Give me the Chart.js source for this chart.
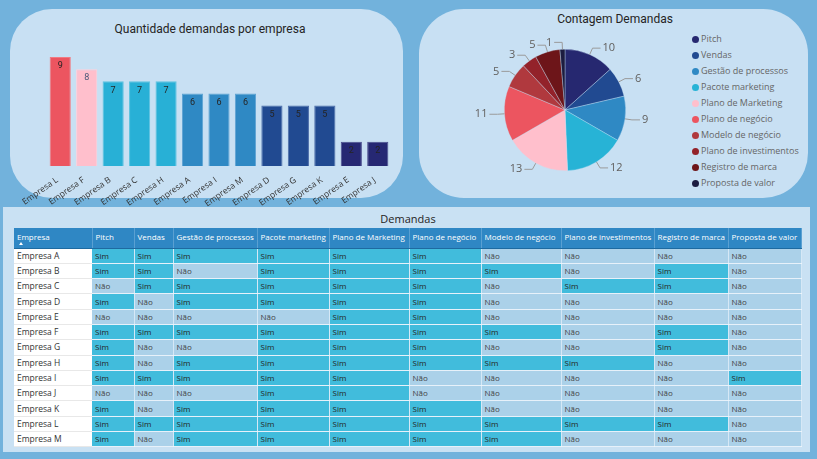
<!DOCTYPE html>
<html><head><meta charset="utf-8">
<script src="https://cdn.jsdelivr.net/npm/chart.js@4.4.1/dist/chart.umd.min.js"></script>
<style>
html,body{margin:0;padding:0;}
body{width:817px;height:459px;background:#72b2dc;position:relative;overflow:hidden;font-family:"Open Sans","Noto Sans",sans-serif;}
.panel{position:absolute;background:#c8e0f3;}
#p1{left:10px;top:9px;width:393px;height:189px;border-radius:42px;}
#p2{left:419px;top:9px;width:389px;height:189px;border-radius:45px;}
#p3{left:3px;top:207px;width:807px;height:245px;background:#c9e1f3;}
.title{position:absolute;font-family:Roboto,"DejaVu Sans",sans-serif;color:#252423;white-space:nowrap;transform:translate(-50%,-50%);}
canvas{position:absolute;}
#legend{position:absolute;left:692px;top:31px;}
.li{height:16px;line-height:16px;font-size:9px;color:#666;white-space:nowrap;display:flex;align-items:center;}
.dot{width:7px;height:7px;border-radius:50%;margin-right:2px;flex:none;}
#tbl{position:absolute;left:14px;top:228px;border-collapse:collapse;table-layout:fixed;font-size:8px;}
#tbl tr.hd{height:20px;}
#tbl tr.r{height:15.3px;}
#tbl th{background:#2f87c4;color:#fff;font-weight:normal;text-align:left;padding:0 0 0 3px;vertical-align:top;line-height:17px;border-right:1px solid #5aa0d2;border-bottom:1px solid #1e6aa0;white-space:nowrap;overflow:hidden;position:relative;}
#tbl td{padding:0 0 0 3px;line-height:12px;white-space:nowrap;overflow:hidden;border-bottom:1px solid rgba(255,255,255,0.55);color:#252423;}
#tbl td.e{background:#fff;border-bottom:1px solid #e8e8e8;color:#333;font-size:8.5px;}
#tbl td.s{background:#41bcdc;border-right:1px solid rgba(255,255,255,0.25);}
#tbl td.n{background:#abd1e9;border-right:1px solid rgba(255,255,255,0.25);color:#444;}
.arrow{position:absolute;left:5px;top:14px;width:0;height:0;border-left:2.5px solid transparent;border-right:2.5px solid transparent;border-bottom:3px solid #fff;}
</style></head>
<body>
<div class="panel" id="p1"></div>
<div class="panel" id="p2"></div>
<div class="panel" id="p3"></div>
<div class="title" style="left:210px;top:29px;font-size:12px;">Quantidade demandas por empresa</div>
<div class="title" style="left:615px;top:19px;font-size:12px;">Contagem Demandas</div>
<div class="title" style="left:408px;top:218px;font-size:11px;font-family:'Open Sans','Noto Sans',sans-serif;">Demandas</div>
<canvas id="bar" width="393" height="200" style="left:10px;top:9px;width:393px;height:200px;"></canvas>
<canvas id="pie" width="200" height="160" style="left:465px;top:30px;width:200px;height:160px;"></canvas>
<div id="legend"></div>
<table id="tbl"></table>
<script>
// ---- data ----
const barCompanies = ['Empresa L','Empresa F','Empresa B','Empresa C','Empresa H','Empresa A','Empresa I','Empresa M','Empresa D','Empresa G','Empresa K','Empresa E','Empresa J'];
const barValues = [9,8,7,7,7,6,6,6,5,5,5,2,2];
const barColors = ['#ec5560','#ffbfcc','#28b0d6','#28b0d6','#28b0d6','#2f89c4','#2f89c4','#2f89c4','#214a91','#214a91','#214a91','#262873','#262873'];
const barBorders = ['#f07a82','#ffd0da','#5cc3e0','#5cc3e0','#5cc3e0','#5fa3d3','#5fa3d3','#5fa3d3','#4b6ca8','#4b6ca8','#4b6ca8','#4a4c8c','#4a4c8c'];

const demandTypes = ['Pitch','Vendas','Gestão de processos','Pacote marketing','Plano de Marketing','Plano de negócio','Modelo de negócio','Plano de investimentos','Registro de marca','Proposta de valor'];
const demandCounts = [10,6,9,12,13,11,5,3,5,1];
const demandColors = ['#262870','#214a91','#2f89c4','#27b3d6','#ffbfcc','#ec5560','#b0393e','#93222a','#6d1519','#1c1c40'];

const tableCompanies = ['Empresa A','Empresa B','Empresa C','Empresa D','Empresa E','Empresa F','Empresa G','Empresa H','Empresa I','Empresa J','Empresa K','Empresa L','Empresa M'];
const rowA = ['Sim','Sim','Sim','Sim','Sim','Sim','Não','Não','Não','Não'];
const rowB = ['Sim','Sim','Não','Sim','Sim','Sim','Sim','Não','Sim','Não'];
const rowC = ['Não','Sim','Sim','Sim','Sim','Sim','Não','Sim','Sim','Não'];
const rowD = ['Sim','Não','Sim','Sim','Sim','Sim','Não','Não','Não','Não'];
const rowE = ['Não','Não','Não','Não','Sim','Sim','Não','Não','Não','Não'];
const rowF = ['Sim','Sim','Sim','Sim','Sim','Sim','Sim','Não','Sim','Não'];
const rowG = ['Sim','Não','Não','Sim','Sim','Sim','Não','Não','Sim','Não'];
const rowH = ['Sim','Não','Sim','Sim','Sim','Sim','Sim','Sim','Não','Não'];
const rowI = ['Sim','Sim','Sim','Sim','Sim','Não','Não','Não','Não','Sim'];
const rowJ = ['Não','Não','Não','Sim','Sim','Não','Não','Não','Não','Não'];
const rowK = ['Sim','Não','Sim','Sim','Sim','Sim','Não','Não','Não','Não'];
const rowL = ['Sim','Sim','Sim','Sim','Sim','Sim','Sim','Sim','Sim','Não'];
const rowM = ['Sim','Não','Sim','Sim','Sim','Sim','Sim','Não','Não','Não'];
const tableRows = [rowA,rowB,rowC,rowD,rowE,rowF,rowG,rowH,rowI,rowJ,rowK,rowL,rowM];
const colWidths = [78,42,39,84,72,80,72,80,93,74,73];

// ---- bar chart ----
const barLabels = {
  id:'barLabels',
  afterDatasetsDraw(chart){
    const ctx = chart.ctx; const meta = chart.getDatasetMeta(0);
    ctx.save();
    ctx.font = '9px Roboto, sans-serif';
    ctx.textAlign = 'center'; ctx.textBaseline = 'middle';
    meta.data.forEach((b,i)=>{
      ctx.fillStyle = i===1 ? '#4a5a78' : '#252423';
      ctx.fillText(String(chart.data.datasets[0].data[i]), b.x, b.y + 9);
    });
    ctx.restore();
  }
};
new Chart(document.getElementById('bar'), {
  type:'bar',
  data:{labels:barCompanies, datasets:[{data:barValues, backgroundColor:barColors, borderColor:barBorders, borderWidth:1, barPercentage:0.8, categoryPercentage:1}]},
  options:{
    responsive:false, animation:false, devicePixelRatio:1,
    layout:{padding:{left:37,right:12,top:36,bottom:0}},
    plugins:{legend:{display:false}, tooltip:{enabled:false}},
    scales:{
      y:{display:false, min:0, max:10},
      x:{grid:{display:false}, border:{display:false},
         ticks:{minRotation:35, maxRotation:35, padding:1, labelOffset:-3, color:'#333', font:{size:8.5, family:'"Open Sans","Noto Sans",sans-serif'}},
         afterFit:(s)=>{s.height = 43;}}
    }
  },
  plugins:[barLabels]
});

// ---- pie chart ----
const pieLabels = {
  id:'pieLabels',
  afterDatasetsDraw(chart){
    const ctx = chart.ctx; const meta = chart.getDatasetMeta(0);
    ctx.save();
    ctx.font = '11px "Open Sans","Noto Sans",sans-serif';
    ctx.fillStyle = '#605e5c'; ctx.strokeStyle = '#9a9a9a'; ctx.lineWidth = 1;
    meta.data.forEach((arc,i)=>{
      const p = arc.getProps(['x','y','startAngle','endAngle','outerRadius'], true);
      const mid = (p.startAngle + p.endAngle)/2;
      const c = Math.cos(mid), s = Math.sin(mid);
      const x1 = p.x + c*p.outerRadius, y1 = p.y + s*p.outerRadius;
      const x2 = p.x + c*(p.outerRadius+7), y2 = p.y + s*(p.outerRadius+7);
      const right = c >= 0;
      const x3 = x2 + (right ? 8 : -8);
      ctx.beginPath(); ctx.moveTo(x1,y1); ctx.lineTo(x2,y2); ctx.lineTo(x3,y2); ctx.stroke();
      ctx.textAlign = right ? 'left' : 'right'; ctx.textBaseline = 'middle';
      ctx.fillText(String(chart.data.datasets[0].data[i]), x3 + (right ? 2 : -2), y2);
    });
    ctx.restore();
  }
};
new Chart(document.getElementById('pie'), {
  type:'pie',
  data:{labels:demandTypes, datasets:[{data:demandCounts, backgroundColor:demandColors, borderColor:'rgba(200,224,243,0.6)', borderWidth:0.6}]},
  options:{
    responsive:false, animation:false, devicePixelRatio:1,
    layout:{padding:{left:39,right:39,top:19,bottom:19}},
    plugins:{legend:{display:false}, tooltip:{enabled:false}}
  },
  plugins:[pieLabels]
});

// ---- legend ----
const leg = document.getElementById('legend');
demandTypes.forEach((t,i)=>{
  const d = document.createElement('div'); d.className = 'li';
  d.innerHTML = '<span class="dot" style="background:'+demandColors[i]+'"></span>' + t;
  leg.appendChild(d);
});

// ---- table ----
const tbl = document.getElementById('tbl');
let cg = '<colgroup>' + colWidths.map(w=>'<col style="width:'+w+'px">').join('') + '</colgroup>';
let h = '<tr class="hd"><th>Empresa<span class="arrow"></span></th>' + demandTypes.map(t=>'<th>'+t+'</th>').join('') + '</tr>';
let body = tableCompanies.map((c,r)=>'<tr class="r"><td class="e">'+c+'</td>' + tableRows[r].map(v=>'<td class="'+(v==='Sim'?'s':'n')+'">'+v+'</td>').join('') + '</tr>').join('');
tbl.innerHTML = cg + h + body;
tbl.style.width = colWidths.reduce((a,b)=>a+b,0) + 'px';
</script>
</body></html>
